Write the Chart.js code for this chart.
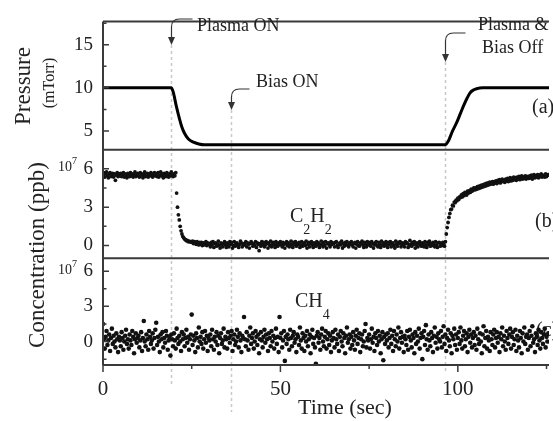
<!DOCTYPE html>
<html>
<head>
<meta charset="utf-8">
<script src="https://cdn.jsdelivr.net/npm/chart.js@4.4.1/dist/chart.umd.min.js"></script>
<style>
  html, body { margin: 0; padding: 0; background: #fff; overflow: hidden; }
  #wrap { width: 553px; height: 421px; }
</style>
</head>
<body>
<div id="wrap"><canvas id="chart" width="553" height="421"></canvas></div>
<script>
// pressure trace (mTorr)
const pressureTime  = [0, 19.2, 19.8, 20.6, 21.5, 22.2, 22.9, 24, 25.5, 27, 28.5, 96.4, 97.3, 98.4, 99.7, 100.8, 101.7, 102.6, 103.4, 104.4, 105.3, 107, 109, 126];
const pressureValue = [10, 10, 9.5, 8.0, 6.5, 5.5, 4.8, 4.1, 3.7, 3.5, 3.4, 3.4, 3.8, 4.9, 6.0, 7.1, 8.0, 8.8, 9.4, 9.75, 9.9, 10.0, 10.0, 10];

// concentrations (x10^7 ppb), one sample every 0.25 s starting at t = 0
const sampleStep = 0.25;
const c2h2Value = [
  5.5,5.7,5.35,5.6,5.75,5.45,5.3,5.6,5.7,5.4,5.5,5.65,5.35,5.6,5.1,5.5,5.7,5.4,5.6,5.45,
  5.65,5.4,5.5,5.7,5.35,5.6,5.5,5.3,5.65,5.55,5.4,5.7,5.45,5.6,5.35,5.55,5.75,5.4,5.5,5.65,
  5.45,5.35,5.7,5.5,5.6,5.3,5.55,5.75,5.4,5.5,5.65,5.35,5.6,5.45,5.7,5.5,5.35,5.6,5.7,5.45,
  5.6,5.4,5.7,5.35,5.5,5.75,5.45,5.6,5.3,5.65,5.5,5.4,5.7,5.55,5.35,5.6,5.45,5.75,5.5,5.4,
  5.6,5.45,5.7,4.1,3.0,2.4,2.0,1.5,1.15,0.9,0.7,0.6,0.5,0.45,0.38,0.4,0.3,0.35,0.28,0.3,
  0.25,0.35,0.15,0.3,0.2,0.1,0.3,0.2,0.05,0.25,0.1,0.25,0.0,0.2,0.05,0.15,0.3,0.0,0.2,0.1,
  0.1,-0.1,0.25,0.05,0.3,-0.15,0.15,0.2,-0.05,0.1,0.35,0.0,-0.2,0.2,0.1,-0.1,0.15,0.3,0.05,-0.15,
  0.2,0.05,-0.1,0.3,0.1,0.25,-0.2,0.0,0.3,-0.05,0.15,0.2,0.05,-0.15,0.1,0.35,0.2,-0.1,0.05,0.15,
  0.05,0.3,-0.1,0.2,0.1,-0.2,0.15,0.3,0.2,-0.05,0.1,0.0,0.3,-0.15,0.2,0.1,-0.4,0.15,-0.05,0.3,
  0.1,0.25,-0.1,0.05,0.3,0.15,-0.2,0.2,0.0,0.35,-0.1,0.1,0.25,0.05,-0.15,0.3,0.1,-0.05,0.2,0.1,
  0.3,0.05,-0.1,0.25,0.1,-0.2,0.15,0.3,0.0,0.2,-0.1,0.1,0.35,0.05,-0.15,0.25,0.1,0.3,-0.05,0.15,
  0.1,0.25,-0.15,0.05,0.3,-0.05,0.15,0.2,0.0,0.35,-0.2,0.1,0.25,-0.1,0.15,0.3,0.05,-0.15,0.2,0.1,
  -0.05,0.3,0.1,0.2,-0.15,0.05,0.35,0.1,-0.1,0.25,0.0,0.3,-0.2,0.15,0.2,0.05,-0.1,0.3,0.1,0.2,
  0.15,-0.1,0.25,0.3,0.0,-0.15,0.1,0.2,0.05,0.35,-0.2,0.15,-0.05,0.25,0.1,0.3,0.0,-0.1,0.2,0.1,
  0.3,0.05,-0.1,0.15,0.25,-0.2,0.1,0.3,0.0,-0.05,0.2,0.15,0.35,0.05,-0.15,0.25,0.1,-0.1,0.3,0.05,
  0.1,0.25,-0.05,0.3,0.15,-0.2,0.05,0.2,0.3,0.0,-0.1,0.25,0.1,-0.15,0.35,0.05,0.2,-0.05,0.1,0.3,
  0.05,-0.15,0.25,0.1,0.3,-0.1,0.15,0.2,0.0,-0.2,0.35,0.1,-0.05,0.25,0.15,0.3,-0.1,0.05,0.2,0.1,
  -0.1,0.3,0.15,0.2,-0.15,0.05,0.4,0.1,-0.05,0.25,0.1,0.3,-0.2,0.05,0.2,-0.1,0.15,0.3,0.05,-0.05,
  0.2,0.1,-0.1,0.3,0.05,-0.15,0.25,0.1,0.35,-0.05,0.15,0.0,0.25,0.1,-0.1,0.3,0.05,-0.15,0.2,0.25,
  -0.05,0.15,0.0,0.25,0.1,-0.05,
  0.3,0.9,1.4,1.8,2.2,2.5,2.8,2.85,3.15,3.1,3.4,3.35,3.55,3.5,
  3.7,3.6,3.8,3.75,3.95,3.8,4.05,3.9,4.15,4.05,3.95,4.25,4.1,4.3,4.15,4.4,4.25,4.35,4.5,4.35,
  4.5,4.4,4.6,4.45,4.65,4.5,4.7,4.55,4.75,4.6,4.8,4.65,4.85,4.7,4.9,4.75,4.95,4.8,4.9,5.0,
  4.8,5.0,4.9,5.05,4.85,5.1,4.95,5.15,4.9,5.05,5.2,5.0,5.1,4.95,5.2,5.05,5.25,5.0,5.15,5.3,
  5.05,5.25,5.1,5.35,5.15,5.3,5.1,5.35,5.2,5.4,5.15,5.3,5.45,5.2,5.35,5.25,5.45,5.2,5.4,5.3,
  5.25,5.45,5.3,5.5,5.2,5.4,5.55,5.3,5.45,5.35,5.55,5.3,5.5,5.4,5.6,5.35,5.5,5.45,5.35,5.6,
  5.4,5.5,5.55
];
const ch4Value = [
  1.5,0.2,-0.6,0.4,0.9,-0.3,0.1,0.6,-0.8,0.3,1.1,-0.2,0.5,0.0,-0.5,0.7,0.2,-0.9,0.4,0.1,
  -0.4,0.8,0.3,-0.7,0.0,0.5,1.0,-0.2,0.2,-0.6,0.6,0.1,-0.3,0.9,0.4,-1.0,0.2,0.7,-0.1,0.3,
  0.5,-0.5,0.1,0.8,-0.8,0.3,1.75,0.0,-0.4,0.6,0.2,-0.7,0.9,0.4,-0.2,0.1,0.7,-0.6,0.3,1.0,
  1.6,-0.3,0.4,0.0,-0.9,0.6,0.2,0.8,-0.5,0.3,-0.1,0.9,0.5,-0.7,0.1,0.4,-1.2,0.6,0.2,-0.4,
  0.7,0.1,-0.6,1.1,0.3,-0.2,0.5,0.0,-0.8,0.8,0.2,0.6,-0.4,0.3,1.0,-0.1,0.4,-0.7,0.2,0.6,
  2.3,-0.3,0.5,0.1,-0.9,0.7,0.3,-0.5,1.2,0.0,0.4,-0.2,0.8,-0.6,0.2,0.9,-0.1,0.5,-0.8,0.3,
  0.1,0.6,-0.4,1.0,0.2,-0.7,0.4,0.0,0.8,-0.3,0.5,-1.0,0.3,0.7,-0.2,0.1,1.1,-0.5,0.4,0.2,
  -0.6,0.8,0.3,-0.1,0.5,0.9,-0.8,0.2,0.6,-0.3,0.0,1.0,0.4,-0.5,0.7,0.1,-0.9,0.5,0.3,2.1,
  0.2,-0.4,0.8,0.1,-0.7,0.5,1.2,-0.2,0.3,0.7,-0.6,0.0,0.9,0.4,-0.3,0.6,-1.0,0.2,0.8,0.1,
  -0.5,0.4,1.0,-0.1,0.6,0.2,-0.8,0.7,0.3,-0.4,0.9,0.0,0.5,-0.6,0.3,1.1,-0.2,0.4,-0.9,2.1,
  0.3,0.7,-0.5,0.1,0.9,-1.65,0.4,-0.2,0.6,0.2,-0.7,1.0,0.3,-0.4,0.5,0.8,-0.1,0.2,-0.9,0.6,
  0.4,-0.3,1.2,0.1,-0.6,0.7,0.3,-0.8,0.5,0.0,0.9,-0.4,0.2,0.6,-1.0,0.4,1.0,-0.2,0.3,-0.5,
  -1.9,0.5,0.8,-0.1,0.3,-0.7,0.6,1.1,0.0,-0.4,0.4,0.9,-0.6,0.2,0.7,-0.3,0.5,-0.9,0.1,0.8,
  0.3,-0.5,1.0,0.2,-0.2,0.6,-0.8,0.4,0.9,0.0,-0.4,0.7,0.3,-1.0,0.5,1.2,-0.1,0.2,0.6,-0.6,
  0.4,-0.3,0.8,0.1,-0.7,0.5,1.0,-0.2,0.3,0.7,-0.9,0.2,0.6,-0.4,0.0,0.9,1.5,-0.5,0.3,0.1,
  0.6,-0.6,0.2,1.1,-0.1,0.4,-0.8,0.7,0.3,-0.3,0.9,0.0,0.5,-1.0,0.2,0.8,-1.6,0.4,-0.2,0.6,
  0.1,0.7,-0.5,0.3,1.0,-0.2,0.5,-0.8,0.9,0.2,-0.4,0.6,0.0,1.2,-0.6,0.3,0.8,-0.1,0.4,-0.9,
  0.5,0.2,-0.3,0.9,-0.7,0.4,1.0,0.1,-0.5,0.6,0.3,-1.0,0.8,-0.2,0.5,0.0,1.1,-0.6,0.3,0.7,
  -1.5,0.4,0.9,-0.3,1.4,0.2,-0.7,0.6,0.1,-0.4,0.8,0.3,-0.9,0.5,1.2,-0.1,0.4,-0.6,0.7,0.2,
  0.0,0.9,-0.5,0.4,1.3,-0.2,0.6,-0.8,0.3,1.0,0.1,-0.4,0.7,-1.0,0.5,0.2,1.1,-0.3,0.6,-0.7,
  0.3,0.8,-0.2,1.2,0.1,-0.6,0.5,0.9,-0.4,0.2,0.7,-0.9,0.4,1.0,-0.1,0.6,-0.5,0.3,0.8,-0.3,
  0.5,-0.7,1.1,0.2,-0.2,0.7,0.0,-1.0,0.6,1.3,-0.4,0.3,0.9,-0.6,0.4,0.1,-0.8,0.8,0.2,-0.3,
  0.6,1.0,-0.5,0.3,0.8,-0.1,0.4,-0.9,0.7,0.2,1.2,-0.4,0.5,0.0,-0.7,0.9,0.3,-0.2,0.6,1.1,
  -0.6,0.4,0.8,-0.3,0.2,1.0,-0.8,0.5,0.1,-0.5,0.9,0.3,-1.0,0.7,0.0,1.2,-0.2,0.4,0.6,-0.7,
  0.3,0.9,-0.4,0.5,1.3,-0.1,0.2,-0.9,0.7,0.4,-0.3,1.0,0.1,-0.6,0.8,0.3,-0.2,0.6,1.1,-0.5,
  0.4,0.0,0.7
];

// axes
const timeTicks = [0, 50, 100];
const timeMinorTicks = [25, 75, 125];
const pressureTicks = [5, 10, 15];
const pressureMinorTicks = [7.5, 12.5, 17.5];
const concTicks = [0, 3, 6];
const c2h2MinorTicks = [1.5, 4.5];
const ch4MinorTicks = [-1.5, 1.5, 4.5];

// Plasma ON, Bias ON, Plasma & Bias Off
const eventTimes = [19.2, 36, 96.4];

const serif = "'Liberation Serif', 'Times New Roman', serif";
const ink = "#222";

const pressurePoints = pressureTime.map((t, i) => ({ x: t, y: pressureValue[i] }));
const c2h2Points = c2h2Value.map((v, i) => ({ x: i * sampleStep, y: v }));
const ch4Points = ch4Value.map((v, i) => ({ x: i * sampleStep, y: v }));

function panelScale(weight, min, max, ticks) {
  return {
    type: "linear",
    position: "left",
    stack: "panels",
    stackWeight: weight,
    min: min,
    max: max,
    grid: { display: false, drawTicks: false },
    border: { display: false },
    ticks: { font: { family: serif, size: 19 }, color: ink, padding: 10 },
    afterBuildTicks: (s) => { s.ticks = ticks.map((v) => ({ value: v })); },
    afterFit: (s) => { s.width = 103; }
  };
}

//dibuja una flecha curva que baja hasta la linea del evento
function callout(ctx, tipX, tipY, startX, startY) {
  const r = 8;
  ctx.beginPath();
  ctx.moveTo(startX, startY);
  ctx.lineTo(tipX + r, startY);
  ctx.quadraticCurveTo(tipX, startY, tipX, startY + r);
  ctx.lineTo(tipX, tipY - 6);
  ctx.stroke();
  ctx.beginPath();
  ctx.moveTo(tipX - 3.5, tipY - 8);
  ctx.lineTo(tipX + 3.5, tipY - 8);
  ctx.lineTo(tipX, tipY);
  ctx.closePath();
  ctx.fill();
}

// texto con subindices: partes [texto, esSubindice]
function formula(ctx, parts, x, y) {
  let cx = x;
  parts.forEach(([txt, sub]) => {
    ctx.font = (sub ? "14px " : "20px ") + serif;
    ctx.fillText(txt, cx, sub ? y + 13 : y);
    cx += ctx.measureText(txt).width;
  });
}

function tenToSeven(ctx, right, y) {
  ctx.textAlign = "left";
  ctx.textBaseline = "middle";
  ctx.font = "14px " + serif;
  ctx.fillText("10", right - 26, y - 1);
  ctx.font = "10px " + serif;
  ctx.fillText("7", right - 12, y - 7);
}

const decor = {
  id: "decor",
  beforeDatasetsDraw(chart) {
    const { ctx, scales } = chart;
    const x = scales.x;
    ctx.save();
    // lineas punteadas de los eventos
    const tops = [45, 110, 62];
    const bottoms = [387, 412, 373];
    ctx.strokeStyle = "#c8c8c8";
    ctx.lineWidth = 1.5;
    ctx.setLineDash([3, 3]);
    eventTimes.forEach((t, i) => {
      const px = Math.round(x.getPixelForValue(t)) + 0.5;
      ctx.beginPath();
      ctx.moveTo(px, tops[i]);
      ctx.lineTo(px, bottoms[i]);
      ctx.stroke();
    });
    ctx.setLineDash([]);

    ctx.fillStyle = ink;
    ctx.textBaseline = "middle";
    ctx.textAlign = "left";
    ctx.font = "20px " + serif;
    ctx.fillText("(a)", 532, 108);
    ctx.fillText("(b)", 535, 222);
    ctx.fillText("(c)", 536, 331);
    formula(ctx, [["C", false], ["2", true], ["H", false], ["2", true]], 290, 217);
    formula(ctx, [["CH", false], ["4", true]], 295, 302);
    ctx.restore();
  },
  afterDraw(chart) {
    const { ctx, chartArea, scales } = chart;
    const { x, yA, yB, yC } = scales;
    const left = chartArea.left, right = chartArea.right;
    ctx.save();

    // marcos de los paneles
    ctx.strokeStyle = "#3a3a3a";
    ctx.lineWidth = 2;
    ctx.beginPath();
    ctx.moveTo(left, chartArea.top);
    ctx.lineTo(left, chartArea.bottom);
    [yA.top, yA.bottom, yB.bottom, yC.bottom].forEach((py) => {
      ctx.moveTo(left, py);
      ctx.lineTo(right, py);
    });
    ctx.stroke();

    // marcas de los ejes
    ctx.lineWidth = 1.5;
    ctx.beginPath();
    const yMarks = [
      [yA, pressureTicks, pressureMinorTicks],
      [yB, concTicks, c2h2MinorTicks],
      [yC, concTicks, ch4MinorTicks]
    ];
    yMarks.forEach(([s, major, minor]) => {
      major.forEach((v) => {
        const py = s.getPixelForValue(v);
        ctx.moveTo(left, py);
        ctx.lineTo(left + 6, py);
      });
      minor.forEach((v) => {
        const py = s.getPixelForValue(v);
        ctx.moveTo(left, py);
        ctx.lineTo(left + 3.5, py);
      });
    });
    timeTicks.forEach((v) => {
      const px = x.getPixelForValue(v);
      ctx.moveTo(px, chartArea.bottom);
      ctx.lineTo(px, chartArea.bottom + 7);
    });
    timeMinorTicks.forEach((v) => {
      const px = Math.min(x.getPixelForValue(v), right - 1);
      ctx.moveTo(px, chartArea.bottom);
      ctx.lineTo(px, chartArea.bottom + 4);
    });
    ctx.stroke();

    ctx.fillStyle = ink;
    tenToSeven(ctx, 84, yB.getPixelForValue(6));
    tenToSeven(ctx, 84, yC.getPixelForValue(6));

    // flechas y textos de los eventos
    ctx.strokeStyle = "#333";
    ctx.fillStyle = "#333";
    ctx.lineWidth = 1.2;
    const ex = eventTimes.map((t) => Math.round(x.getPixelForValue(t)) + 0.5);
    callout(ctx, ex[0], 45, ex[0] + 21, 19);
    callout(ctx, ex[1], 110, ex[1] + 18, 89);
    callout(ctx, ex[2], 62, ex[2] + 20, 33);

    ctx.fillStyle = ink;
    ctx.textAlign = "left";
    ctx.textBaseline = "middle";
    ctx.font = "18px " + serif;
    ctx.fillText("Plasma ON", 197, 26);
    ctx.fillText("Bias ON", 256, 82);
    ctx.fillText("Plasma &", 478, 25);
    ctx.fillText("Bias Off", 482, 48);

    // titulos de los ejes
    ctx.textAlign = "center";
    ctx.font = "22px " + serif;
    ctx.fillText("Time (sec)", 345, 408);
    ctx.save();
    ctx.translate(24, 86);
    ctx.rotate(-Math.PI / 2);
    ctx.font = "23px " + serif;
    ctx.fillText("Pressure", 0, 0);
    ctx.restore();
    ctx.save();
    ctx.translate(50, 83);
    ctx.rotate(-Math.PI / 2);
    ctx.font = "16px " + serif;
    ctx.fillText("(mTorr)", 0, 0);
    ctx.restore();
    ctx.save();
    ctx.translate(38, 255);
    ctx.rotate(-Math.PI / 2);
    ctx.font = "23px " + serif;
    ctx.fillText("Concentration (ppb)", 0, 0);
    ctx.restore();

    ctx.restore();
  }
};

const myChart = new Chart(document.getElementById("chart").getContext("2d"), {
  type: "scatter",
  data: {
    datasets: [
      {
        label: "Pressure",
        data: pressurePoints,
        yAxisID: "yA",
        showLine: true,
        borderColor: "#000",
        borderWidth: 3,
        pointRadius: 0,
        cubicInterpolationMode: "monotone"
      },
      {
        label: "C2H2",
        data: c2h2Points,
        yAxisID: "yB",
        pointRadius: 1.9,
        pointBorderWidth: 0,
        backgroundColor: "#111",
        borderColor: "#111"
      },
      {
        label: "CH4",
        data: ch4Points,
        yAxisID: "yC",
        pointRadius: 2.3,
        pointBorderWidth: 0,
        backgroundColor: "#111",
        borderColor: "#111"
      }
    ]
  },
  options: {
    responsive: false,
    animation: false,
    layout: { padding: { top: 14, right: 0, bottom: 0, left: 0 } },
    plugins: { legend: { display: false }, tooltip: { enabled: false } },
    scales: {
      x: {
        type: "linear",
        min: 0,
        max: 125.7,
        grid: { display: false, drawTicks: false },
        border: { display: false },
        ticks: { font: { family: serif, size: 21 }, color: ink, padding: 12, maxRotation: 0 },
        afterBuildTicks: (s) => { s.ticks = timeTicks.map((v) => ({ value: v })); },
        afterFit: (s) => { s.height = 56; }
      },
      yC: panelScale(109, -2.0, 7.1, concTicks),
      yB: panelScale(111, -1.0, 7.5, concTicks),
      yA: panelScale(131, 2.84, 17.7, pressureTicks)
    }
  },
  plugins: [decor]
});
</script>
</body>
</html>
